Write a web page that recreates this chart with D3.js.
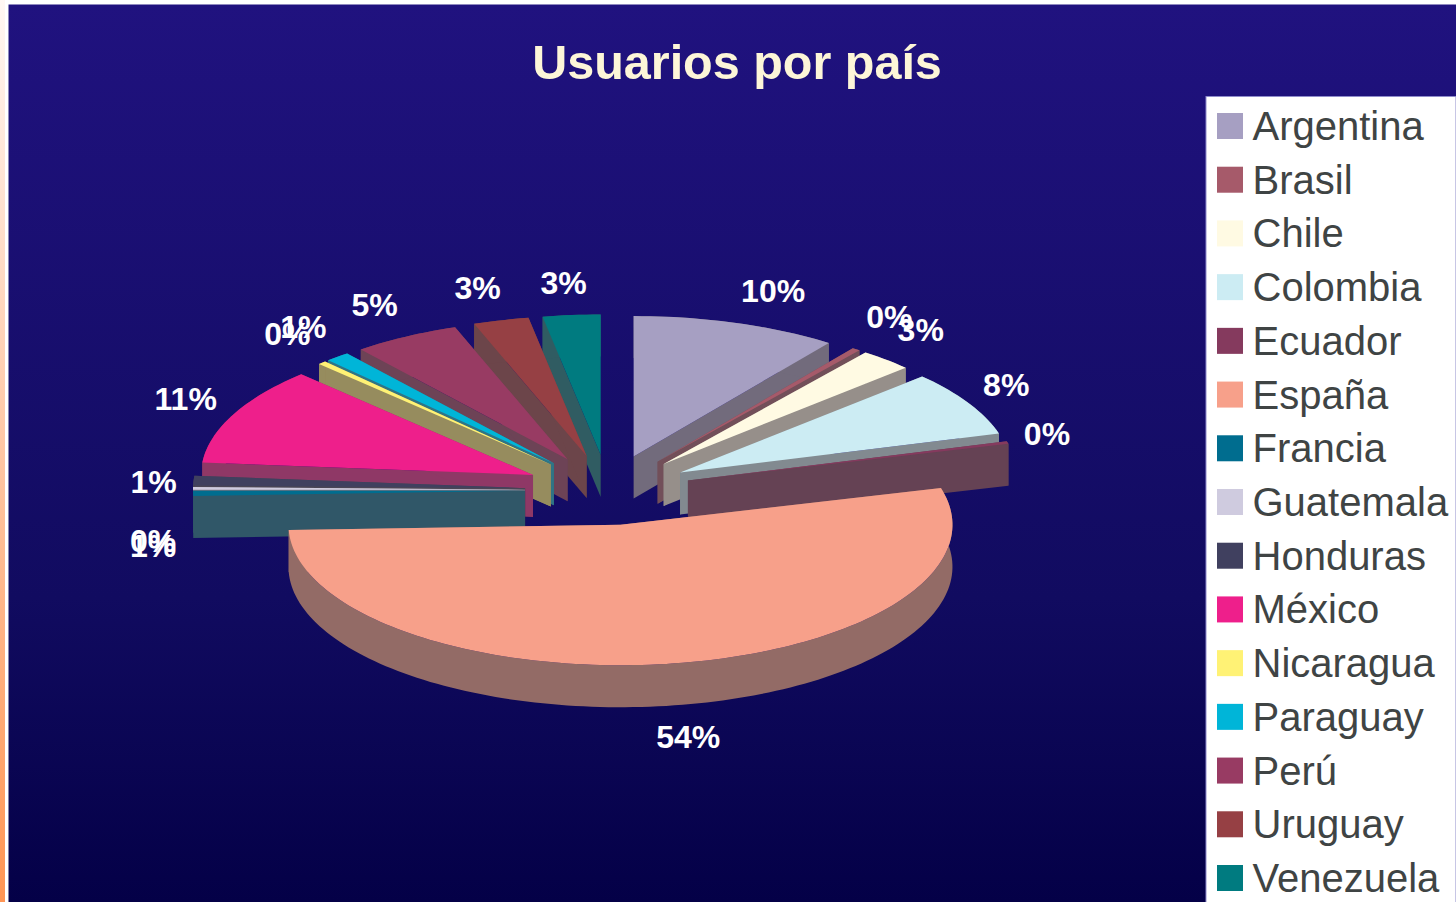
<!DOCTYPE html>
<html>
<head>
<meta charset="utf-8">
<script src="https://cdn.jsdelivr.net/npm/d3@7"></script>
<style>
  html, body { margin: 0; padding: 0; background: #fff; overflow: hidden; }
  svg { display: block; font-family: "Liberation Sans", Arial, sans-serif; }
</style>
</head>
<body>
<svg width="1456" height="902"></svg>
<script>
const TITLE = "Usuarios por país"
const COUNTRIES = ["Argentina", "Brasil", "Chile", "Colombia", "Ecuador", "España", "Francia", "Guatemala",
    "Honduras", "México", "Nicaragua", "Paraguay", "Perú", "Uruguay", "Venezuela"]
// shares, they round to the printed percentages
const SHARES = [10.0, 0.4, 2.6, 7.5, 0.3, 53.6, 0.6, 0.3, 1.1, 11.3, 0.4, 1.2, 5.2, 2.7, 2.8]
const COLORS = ["#a69fc2", "#a65a6a", "#fffae3", "#ccecf3", "#853a5e", "#f7a08a", "#006d8f", "#cfcbdf",
    "#40405f", "#ee1f8b", "#fff275", "#00b5d8", "#983b63", "#964044", "#007b80"]

const cx = 608, cy = 490, rx = 332, ry = 140.5
const depth = 42
const explode = 0.25

const x = d3.scaleLinear().domain([-1, 1]).range([cx - rx, cx + rx])
const y = d3.scaleLinear().domain([-1, 1]).range([cy - ry, cy + ry])
const color = d3.scaleOrdinal().domain(COUNTRIES).range(COLORS)
const percent = d3.format(".0%")
const total = d3.sum(SHARES)
const line = d3.line()
const clamp = d3.scaleLinear().domain([-1, 1]).range([-1, 1]).clamp(true)

const svg = d3.select("svg")
const defs = svg.append("defs")

const bg = defs.append("linearGradient").attr("id", "bg").attr("x2", 0).attr("y2", 1)
bg.append("stop").attr("offset", 0).attr("stop-color", "#20127f")
bg.append("stop").attr("offset", 0.66).attr("stop-color", "#110b60")
bg.append("stop").attr("offset", 1).attr("stop-color", "#040047")

const strip = defs.append("linearGradient").attr("id", "strip").attr("x2", 0).attr("y2", 1)
strip.append("stop").attr("offset", 0).attr("stop-color", "#fff8f4")
strip.append("stop").attr("offset", 1).attr("stop-color", "#ff9554")

svg.append("rect").attr("width", 1456).attr("height", 902).attr("fill", "#fff")
svg.append("rect").attr("width", 5).attr("height", 902).attr("fill", "url(#strip)")
svg.append("rect").attr("x", 8.5).attr("y", 4.5).attr("width", 1448).attr("height", 898).attr("fill", "url(#bg)")

svg.append("text")
    .attr("x", 737).attr("y", 79)
    .attr("text-anchor", "middle")
    .attr("font-size", 48.5).attr("font-weight", "bold")
    .attr("fill", "#fdf6d8")
    .text(TITLE)

const slices = d3.pie().sort(null).value(d => d.share)(COUNTRIES.map((name, i) => ({name, share: SHARES[i]})))
slices.forEach(s => {
    s.mid = (s.startAngle + s.endAngle) / 2
    s.ox = explode * Math.sin(s.mid)
    s.oy = -explode * Math.cos(s.mid)
    s.apex = [x(s.ox), y(s.oy)]
    s.label = percent(s.data.share / total)
    const steps = Math.max(2, Math.ceil((s.endAngle - s.startAngle) * 40))
    s.rim = d3.range(steps + 1).map(k => {
        const a = s.startAngle + (s.endAngle - s.startAngle) * k / steps
        return [x(s.ox + Math.sin(a)), y(s.oy - Math.cos(a))]
    })
})

const down = p => [p[0], p[1] + depth]
const sideColor = d => d3.interpolateRgb(color(d.data.name), "#50484e")(0.6)

// the two cut faces and the outer wall of a slice
function walls(d) {
    const first = d.rim[0], last = d.rim[d.rim.length - 1]
    return [
        line([d.apex, first, down(first), down(d.apex)]),
        line([d.apex, last, down(last), down(d.apex)]),
        line(d.rim.concat(d.rim.map(down).reverse()))
    ]
}

// back to front, the slices nearer the viewer paint over the others
const pieces = svg.append("g").selectAll("g")
    .data(slices.slice().sort((a, b) => a.apex[1] - b.apex[1]))
    .join("g")

pieces.each(function (d) {
    d3.select(this).selectAll("path.wall")
        .data(walls(d))
        .join("path")
        .attr("class", "wall")
        .attr("fill", sideColor(d))
        .attr("d", w => w + "Z")
})

pieces.append("path")
    .attr("fill", d => color(d.data.name))
    .attr("d", d => line([d.apex].concat(d.rim)) + "Z")

// labels sit just outside the rim, wider texts are pushed further out
function labelDx(d) {
    const sin = Math.sin(d.mid)
    const halfWidth = 5 + 9 * d.label.length
    return halfWidth * clamp(3.2 * sin) + 17 * sin
}

function labelDy(d) {
    const cos = Math.cos(d.mid)
    return cos < 0.03 ? depth + 10 + 22 * Math.abs(cos) : -32 * clamp(1.4 * cos - 0.12)
}

svg.append("g").selectAll("text")
    .data(slices)
    .join("text")
    .attr("text-anchor", "middle")
    .attr("font-size", 32).attr("font-weight", "bold")
    .attr("fill", "#fff")
    .attr("x", d => x(d.ox + Math.sin(d.mid)) + labelDx(d))
    .attr("y", d => y(d.oy - Math.cos(d.mid)) + labelDy(d) + 11)
    .text(d => d.label)

const legendY = d3.scalePoint().domain(COUNTRIES).range([126, 878])

svg.append("rect")
    .attr("x", 1206).attr("y", 96.5).attr("width", 250).attr("height", 806)
    .attr("fill", "#fff").attr("stroke", "#8f8ccb").attr("stroke-width", 1)

const legend = svg.append("g").selectAll("g")
    .data(COUNTRIES)
    .join("g")
    .attr("transform", d => "translate(1217," + legendY(d) + ")")

legend.append("rect")
    .attr("y", -13).attr("width", 26).attr("height", 26)
    .attr("fill", d => color(d))

legend.append("text")
    .attr("x", 35.5).attr("y", 14)
    .attr("font-size", 40)
    .attr("fill", "#3f4444")
    .text(d => d)
</script>
</body>
</html>
